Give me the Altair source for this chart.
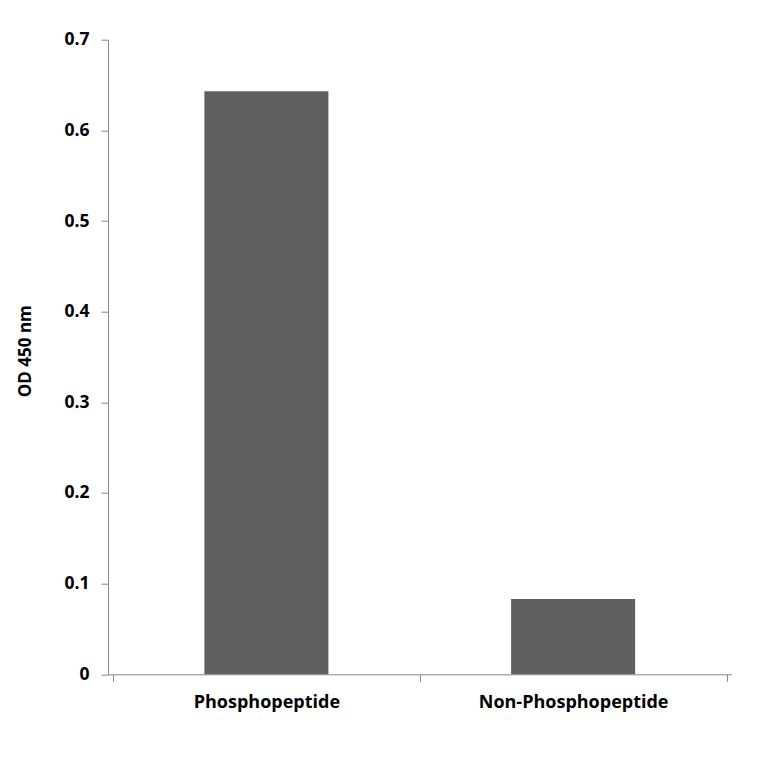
import altair as alt
import pandas as pd

categories = ["Phosphopeptide", "Non-Phosphopeptide"]
od_values = [0.643, 0.083]
y_ticks = [0, 0.1, 0.2, 0.3, 0.4, 0.5, 0.6, 0.7]

df = pd.DataFrame({"category": categories, "od": od_values})

n = len(categories)
x_tick_values = []
for i in range(n):
    x_tick_values += [i, i + 0.5]
x_tick_values.append(n)

label_expr = " : ".join(
    [f"datum.value == {i + 0.5} ? '{c}'" for i, c in enumerate(categories)]
) + " : ''"

FONT = "Open Sans"
AXIS_GRAY = "#888888"

chart = (
    alt.Chart(df)
    .transform_window(rn="row_number()")
    .transform_calculate(xc="datum.rn - 0.5")
    .mark_bar(color="#5f5f5f", size=124)
    .encode(
        x=alt.X(
            "xc:Q",
            scale=alt.Scale(domain=[0, n], nice=False, zero=False),
            axis=alt.Axis(
                title=None,
                values=x_tick_values,
                labelExpr=label_expr,
                tickOpacity={"condition": {"test": "datum.value % 1 === 0", "value": 1}, "value": 0},
                grid=False,
                domainColor=AXIS_GRAY,
                tickColor=AXIS_GRAY,
                tickSize=7,
                labelPadding=12,
                labelFont=FONT,
                labelFontWeight="bold",
                labelFontSize=18,
                labelColor="#000000",
                labelOverlap=False,
                labelBound=False,
                labelFlush=False,
                labelLimit=400,
            ),
        ),
        y=alt.Y(
            "od:Q",
            scale=alt.Scale(domain=[0, 0.7], nice=False),
            axis=alt.Axis(
                title="OD 450 nm",
                values=y_ticks,
                format=".1~f",
                grid=False,
                domainColor=AXIS_GRAY,
                tickColor=AXIS_GRAY,
                tickSize=7,
                labelPadding=12,
                labelFont=FONT,
                labelFontWeight="bold",
                labelFontSize=17.5,
                labelColor="#000000",
                titleFont=FONT,
                titleFontWeight="bold",
                titleFontSize=17,
                titleColor="#000000",
                titleX=-74,
                titleY=311,
            ),
        ),
    )
    .properties(
        width=623.5,
        height=634.6,
        autosize=alt.AutoSizeParams(type="none"),
        padding={"left": 100, "top": 31.7, "right": 24.5, "bottom": 81.7},
        background="white",
    )
    .configure_view(stroke=None)
)

chart.save("out.html", embed_options={"renderer": "svg", "actions": False})
